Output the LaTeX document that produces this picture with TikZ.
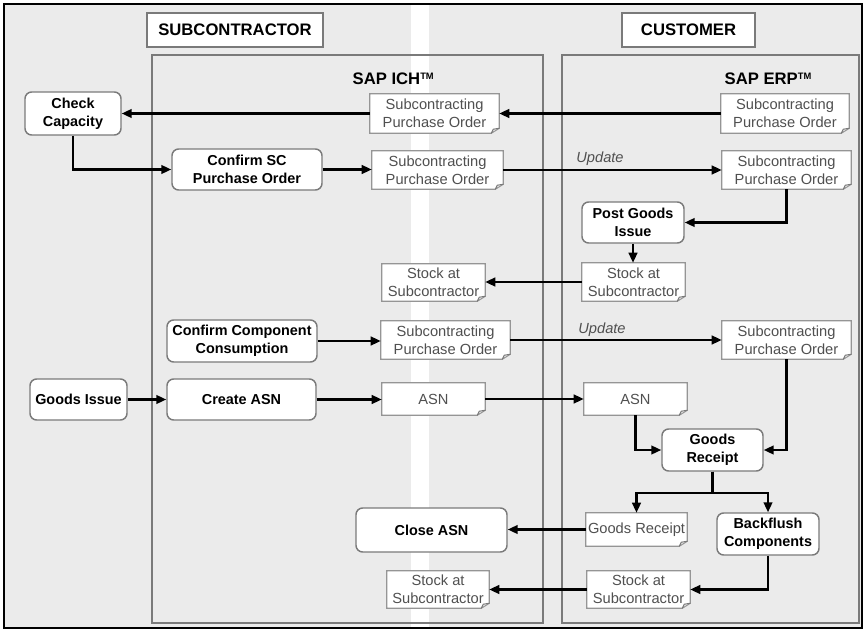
\documentclass[tikz,border=0pt]{standalone}
\usepackage{fontspec}
\setmainfont{Liberation Sans}
\usetikzlibrary{arrows.meta,calc,backgrounds}
\definecolor{paper}{HTML}{EBEBEB}
\definecolor{edge}{HTML}{7A7A7A}
\definecolor{doctext}{HTML}{505050}
\newcommand{\tmark}{{\fontsize{7}{7}\selectfont\raisebox{3.6pt}{TM}}}
\tikzset{
  bw/.style={minimum width=#1*0.75pt},
  bh/.style={minimum height=#1*0.75pt},
  base/.style={inner sep=1pt, align=center, font=\fontsize{11}{13.5}\selectfont},
  stepbox/.style={base, draw=edge, line width=1.1pt, fill=white, rounded corners=5pt,
                  font=\fontsize{10.8}{13.8}\selectfont\bfseries},
  header/.style={base, draw=edge, line width=1pt, fill=white, font=\fontsize{12.5}{15}\selectfont\bfseries},
  lanetitle/.style={inner sep=0pt, font=\fontsize{12.5}{14}\selectfont\bfseries},
  doc/.style={base, text=doctext},
  docshape/.style={draw=edge!80, fill=white, line width=0.8pt},
  lane/.style={draw=edge, line width=1.1pt},
  arr/.style={line width=1.6pt, -{Triangle[length=7.5pt,width=6.5pt]}},
  upd/.style={font=\fontsize{11}{12}\selectfont\itshape, text=doctext},
}
\begin{document}
\begin{tikzpicture}[x=0.75pt,y=-0.75pt]
\useasboundingbox (0,0) rectangle (867,631);

% column headers
\node[header, bw=176, bh=34] (subhdr)  at (235,30)   {SUBCONTRACTOR};
\node[header, bw=133, bh=34] (custhdr) at (688.5,30) {CUSTOMER};
\node[lanetitle, anchor=east] (ichtitle) at (434,79) {SAP ICH\tmark};
\node[lanetitle] (erptitle) at (768,79) {SAP ERP\tmark};

% subcontractor steps
\node[stepbox, bw=96,  bh=43] (chk)  at (73,113.5)  {Check\\Capacity};
\node[stepbox, bw=150, bh=41] (csc)  at (247,169.5) {Confirm SC\\Purchase Order};
\node[stepbox, bw=150, bh=42] (ccc)  at (242,341)   {Confirm Component\\Consumption};
\node[stepbox, bw=97,  bh=41] (gi)   at (78.5,399.5) {Goods Issue};
\node[stepbox, bw=149, bh=41] (casn) at (241.5,399.5) {Create ASN};
\node[stepbox, bw=151, bh=44] (clasn) at (431.5,530) {Close ASN};

% customer steps
\node[stepbox, bw=102, bh=41] (pgi) at (633,222.5) {Post Goods\\Issue};
\node[stepbox, bw=101, bh=42] (gr)  at (712.5,450) {Goods\\Receipt};
\node[stepbox, bw=102, bh=42] (bfc) at (768,534)   {Backflush\\Components};

% documents in SAP ICH
\node[doc, bw=129, bh=39] (ichpo1) at (434.5,113.5) {Subcontracting\\Purchase Order};
\node[doc, bw=131, bh=38] (ichpo2) at (437.5,170)   {Subcontracting\\Purchase Order};
\node[doc, bw=103, bh=37] (ichst1) at (433.5,282.5) {Stock at\\Subcontractor};
\node[doc, bw=129, bh=38] (ichpo3) at (445.5,340)   {Subcontracting\\Purchase Order};
\node[doc, bw=103, bh=32] (ichasn) at (433.5,399)   {ASN};
\node[doc, bw=102, bh=37] (ichst2) at (438,589.5)   {Stock at\\Subcontractor};

% documents in SAP ERP
\node[doc, bw=128, bh=39] (erppo1) at (785,113.5)   {Subcontracting\\Purchase Order};
\node[doc, bw=129, bh=38] (erppo2) at (786.5,170)   {Subcontracting\\Purchase Order};
\node[doc, bw=103, bh=38] (erpst1) at (633.5,282)   {Stock at\\Subcontractor};
\node[doc, bw=129, bh=38] (erppo3) at (786.5,340)   {Subcontracting\\Purchase Order};
\node[doc, bw=103, bh=32] (erpasn) at (635.5,399)   {ASN};
\node[doc, bw=101, bh=33] (grdoc)  at (636.5,529.5) {Goods Receipt};
\node[doc, bw=103, bh=37] (erpst2) at (638.5,589.5) {Stock at\\Subcontractor};

% flow
\draw[arr] (erppo1.west) -- (ichpo1.east |- erppo1.west);
\draw[arr] (ichpo1.west) -- (chk.east |- ichpo1.west);
\draw[arr] (chk.south) |- (csc.west);
\draw[arr] (csc.east) -- (ichpo2.west |- csc.east);
\draw[arr] (ichpo2.east) -- (erppo2.west |- ichpo2.east);
\node[upd] (upd1) at (600,159) {Update};
\draw[arr] (erppo2.south) |- (pgi.east);
\draw[arr] (pgi.south) -- (erpst1.north -| pgi.south);
\draw[arr] (erpst1.west) -- (ichst1.east |- erpst1.west);
\draw[arr] (ccc.east) -- (ichpo3.west |- ccc.east);
\draw[arr] (ichpo3.east) -- (erppo3.west |- ichpo3.east);
\node[upd] (upd2) at (602,330) {Update};
\draw[arr] (gi.east) -- (casn.west |- gi.east);
\draw[arr] (casn.east) -- (ichasn.west |- casn.east);
\draw[arr] (ichasn.east) -- (erpasn.west |- ichasn.east);
\draw[arr] (erpasn.south) |- (gr.west);
\draw[arr] (erppo3.south) |- (gr.east);
\draw[arr] (gr.south) -- ++(0,21) -| (grdoc.north);
\draw[arr] (gr.south) -- ++(0,21) -| (bfc.north);
\draw[arr] (grdoc.west) -- (clasn.east |- grdoc.west);
\draw[arr] (bfc.south) |- (erpst2.east);
\draw[arr] (erpst2.west) -- (ichst2.east |- erpst2.west);

\begin{scope}[on background layer]
  % page and frame
  \filldraw[fill=paper, draw=black, line width=2.2pt] (4,4) rectangle (862,628);
  \fill[white] (411,5.5) rectangle (429,626.5);
  % system lanes
  \draw[lane] (152,55) rectangle (543,623);
  \draw[lane] (562,55) rectangle (859,623);
  % document symbols with a curled corner
  \foreach \n in {ichpo1,ichpo2,ichst1,ichpo3,ichasn,ichst2,
                  erppo1,erppo2,erpst1,erppo3,erpasn,grdoc,erpst2}{
    \filldraw[docshape] (\n.north west) -- (\n.north east)
      -- ($(\n.south east)+(0,-5)$) -- ($(\n.south east)+(-8,0)$)
      -- (\n.south west) -- cycle;
    \draw[edge, line width=0.8pt] ($(\n.south east)+(-8,0)$)
      -- ($(\n.south east)+(-6,-4)$) -- ($(\n.south east)+(0,-5)$);
  }
\end{scope}
\end{tikzpicture}
\end{document}
